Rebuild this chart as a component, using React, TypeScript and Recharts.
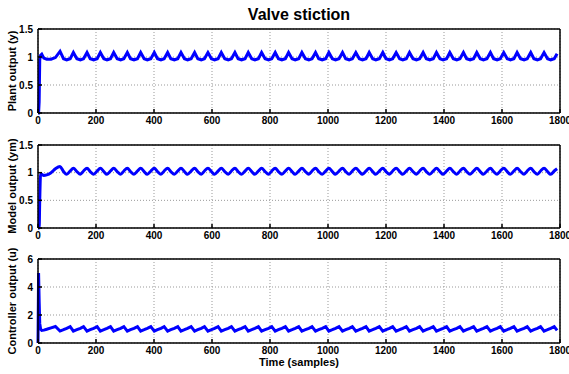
import { LineChart, Line, XAxis, YAxis, CartesianGrid, ReferenceLine } from 'recharts';

// sample index (time axis)
const samples = [
  0, 2, 4, 6, 9, 13, 20, 30, 45, 60,
  76, 88, 99, 111,
  122, 134, 146, 157,
  169, 180, 192, 204,
  215, 227, 238, 250,
  261, 273, 285, 296,
  308, 319, 331, 343,
  354, 366, 377, 389,
  401, 412, 424, 435,
  447, 458, 470, 482,
  493, 505, 516, 528,
  540, 551, 563, 574,
  586, 598, 609, 621,
  632, 644, 656, 667,
  679, 690, 702, 714,
  725, 737, 748, 760,
  771, 783, 795, 806,
  818, 829, 841, 853,
  864, 876, 887, 899,
  910, 922, 934, 945,
  957, 968, 980, 992,
  1003, 1015, 1026, 1038,
  1050, 1061, 1073, 1084,
  1096, 1108, 1119, 1131,
  1142, 1154, 1165, 1177,
  1189, 1200, 1212, 1223,
  1235, 1247, 1258, 1270,
  1281, 1293, 1305, 1316,
  1328, 1339, 1351, 1363,
  1374, 1386, 1397, 1409,
  1420, 1432, 1444, 1455,
  1467, 1478, 1490, 1502,
  1513, 1525, 1536, 1548,
  1560, 1571, 1583, 1594,
  1606, 1618, 1629, 1641,
  1652, 1664, 1676, 1687,
  1699, 1710, 1722, 1733,
  1745, 1757, 1768, 1780,
  1790,
];

const plantOutput = [
  0, 0, 0.2, 0.95, 1.03, 1.05, 0.98, 0.96, 0.96, 0.99,
  1.1, 0.97, 0.95, 0.97,    // 76
  1.08, 0.97, 0.95, 0.97,   // 122
  1.08, 0.97, 0.95, 0.97,   // 169
  1.08, 0.97, 0.95, 0.97,   // 215
  1.08, 0.97, 0.95, 0.97,   // 261
  1.08, 0.97, 0.95, 0.97,   // 308
  1.08, 0.97, 0.95, 0.97,   // 354
  1.08, 0.97, 0.95, 0.97,   // 401
  1.08, 0.97, 0.95, 0.97,   // 447
  1.08, 0.97, 0.95, 0.97,   // 493
  1.08, 0.97, 0.95, 0.97,   // 540
  1.08, 0.97, 0.95, 0.97,   // 586
  1.08, 0.97, 0.95, 0.97,   // 632
  1.08, 0.97, 0.95, 0.97,   // 679
  1.08, 0.97, 0.95, 0.97,   // 725
  1.08, 0.97, 0.95, 0.97,   // 771
  1.08, 0.97, 0.95, 0.97,   // 818
  1.08, 0.97, 0.95, 0.97,   // 864
  1.08, 0.97, 0.95, 0.97,   // 910
  1.08, 0.97, 0.95, 0.97,   // 957
  1.08, 0.97, 0.95, 0.97,   // 1003
  1.08, 0.97, 0.95, 0.97,   // 1050
  1.08, 0.97, 0.95, 0.97,   // 1096
  1.08, 0.97, 0.95, 0.97,   // 1142
  1.08, 0.97, 0.95, 0.97,   // 1189
  1.08, 0.97, 0.95, 0.97,   // 1235
  1.08, 0.97, 0.95, 0.97,   // 1281
  1.08, 0.97, 0.95, 0.97,   // 1328
  1.08, 0.97, 0.95, 0.97,   // 1374
  1.08, 0.97, 0.95, 0.97,   // 1420
  1.08, 0.97, 0.95, 0.97,   // 1467
  1.08, 0.97, 0.95, 0.97,   // 1513
  1.08, 0.97, 0.95, 0.97,   // 1560
  1.08, 0.97, 0.95, 0.97,   // 1606
  1.08, 0.97, 0.95, 0.97,   // 1652
  1.08, 0.97, 0.95, 0.97,   // 1699
  1.08, 0.97, 0.95, 0.97,   // 1745
  1.06,
];

const modelOutput = [
  0, 0, 0, 0.5, 0.98, 0.97, 0.95, 0.96, 1.0, 1.07,
  1.11, 1.02, 0.97, 1.03,   // 76
  1.08, 1.02, 0.97, 1.03,   // 122
  1.08, 1.02, 0.97, 1.03,   // 169
  1.08, 1.02, 0.97, 1.03,   // 215
  1.08, 1.02, 0.97, 1.03,   // 261
  1.08, 1.02, 0.97, 1.03,   // 308
  1.08, 1.02, 0.97, 1.03,   // 354
  1.08, 1.02, 0.97, 1.03,   // 401
  1.08, 1.02, 0.97, 1.03,   // 447
  1.08, 1.02, 0.97, 1.03,   // 493
  1.08, 1.02, 0.97, 1.03,   // 540
  1.08, 1.02, 0.97, 1.03,   // 586
  1.08, 1.02, 0.97, 1.03,   // 632
  1.08, 1.02, 0.97, 1.03,   // 679
  1.08, 1.02, 0.97, 1.03,   // 725
  1.08, 1.02, 0.97, 1.03,   // 771
  1.08, 1.02, 0.97, 1.03,   // 818
  1.08, 1.02, 0.97, 1.03,   // 864
  1.08, 1.02, 0.97, 1.03,   // 910
  1.08, 1.02, 0.97, 1.03,   // 957
  1.08, 1.02, 0.97, 1.03,   // 1003
  1.08, 1.02, 0.97, 1.03,   // 1050
  1.08, 1.02, 0.97, 1.03,   // 1096
  1.08, 1.02, 0.97, 1.03,   // 1142
  1.08, 1.02, 0.97, 1.03,   // 1189
  1.08, 1.02, 0.97, 1.03,   // 1235
  1.08, 1.02, 0.97, 1.03,   // 1281
  1.08, 1.02, 0.97, 1.03,   // 1328
  1.08, 1.02, 0.97, 1.03,   // 1374
  1.08, 1.02, 0.97, 1.03,   // 1420
  1.08, 1.02, 0.97, 1.03,   // 1467
  1.08, 1.02, 0.97, 1.03,   // 1513
  1.08, 1.02, 0.97, 1.03,   // 1560
  1.08, 1.02, 0.97, 1.03,   // 1606
  1.08, 1.02, 0.97, 1.03,   // 1652
  1.08, 1.02, 0.97, 1.03,   // 1699
  1.08, 1.02, 0.97, 1.03,   // 1745
  1.07,
];

const controllerOutput = [
  0, 5.0, 3.0, 1.4, 1.0, 0.9, 0.92, 0.98, 1.08, 1.18,
  0.85, 0.95, 1.05, 1.17,   // 76
  0.85, 0.95, 1.05, 1.17,   // 122
  0.85, 0.95, 1.05, 1.17,   // 169
  0.85, 0.95, 1.05, 1.17,   // 215
  0.85, 0.95, 1.05, 1.17,   // 261
  0.85, 0.95, 1.05, 1.17,   // 308
  0.85, 0.95, 1.05, 1.17,   // 354
  0.85, 0.95, 1.05, 1.17,   // 401
  0.85, 0.95, 1.05, 1.17,   // 447
  0.85, 0.95, 1.05, 1.17,   // 493
  0.85, 0.95, 1.05, 1.17,   // 540
  0.85, 0.95, 1.05, 1.17,   // 586
  0.85, 0.95, 1.05, 1.17,   // 632
  0.85, 0.95, 1.05, 1.17,   // 679
  0.85, 0.95, 1.05, 1.17,   // 725
  0.85, 0.95, 1.05, 1.17,   // 771
  0.85, 0.95, 1.05, 1.17,   // 818
  0.85, 0.95, 1.05, 1.17,   // 864
  0.85, 0.95, 1.05, 1.17,   // 910
  0.85, 0.95, 1.05, 1.17,   // 957
  0.85, 0.95, 1.05, 1.17,   // 1003
  0.85, 0.95, 1.05, 1.17,   // 1050
  0.85, 0.95, 1.05, 1.17,   // 1096
  0.85, 0.95, 1.05, 1.17,   // 1142
  0.85, 0.95, 1.05, 1.17,   // 1189
  0.85, 0.95, 1.05, 1.17,   // 1235
  0.85, 0.95, 1.05, 1.17,   // 1281
  0.85, 0.95, 1.05, 1.17,   // 1328
  0.85, 0.95, 1.05, 1.17,   // 1374
  0.85, 0.95, 1.05, 1.17,   // 1420
  0.85, 0.95, 1.05, 1.17,   // 1467
  0.85, 0.95, 1.05, 1.17,   // 1513
  0.85, 0.95, 1.05, 1.17,   // 1560
  0.85, 0.95, 1.05, 1.17,   // 1606
  0.85, 0.95, 1.05, 1.17,   // 1652
  0.85, 0.95, 1.05, 1.17,   // 1699
  0.85, 0.95, 1.05, 1.17,   // 1745
  0.9,
];

const xTicks = [0, 200, 400, 600, 800, 1000, 1200, 1400, 1600, 1800];
const outputTicks = [0, 0.5, 1, 1.5];
const controllerTicks = [0, 2, 4, 6];

const data = samples.map((t, i) => ({
  t,
  y: plantOutput[i],
  ym: modelOutput[i],
  u: controllerOutput[i],
}));

const FONT = '"Liberation Sans", Arial, Helvetica, sans-serif';
const tickStyle = { fontSize: 10, fontWeight: 'bold', fill: '#000', fontFamily: FONT };

interface PanelProps {
  top: number;
  plotHeight: number;
  dataKey: string;
  yMax: number;
  yTicks: number[];
  curve: 'linear' | 'monotone';
}

function Panel({ top, plotHeight, dataKey, yMax, yTicks, curve }: PanelProps) {
  return (
    <div style={{ position: 'absolute', left: 0, top: top - 5 }}>
      <LineChart
        width={569}
        height={5 + plotHeight + 22}
        data={data}
        margin={{ top: 5, right: 9, left: 0, bottom: 0 }}
      >
        <CartesianGrid stroke="#999" strokeDasharray="1 2" />
        <XAxis
          dataKey="t"
          type="number"
          domain={[0, 1800]}
          ticks={xTicks}
          interval={0}
          height={22}
          stroke="#000"
          strokeWidth={1.5}
          tickSize={-4}
          tickMargin={8}
          tick={tickStyle}
        />
        <YAxis
          type="number"
          domain={[0, yMax]}
          ticks={yTicks}
          interval={0}
          width={38}
          stroke="#000"
          strokeWidth={1.5}
          tickSize={-4}
          tickMargin={9}
          tick={tickStyle}
        />
        <ReferenceLine y={yMax} stroke="#000" strokeWidth={1.5} />
        <ReferenceLine x={1800} stroke="#000" strokeWidth={1.5} />
        <Line
          type={curve}
          dataKey={dataKey}
          stroke="#0000ff"
          strokeWidth={3}
          dot={false}
          isAnimationActive={false}
        />
      </LineChart>
    </div>
  );
}

export default function App() {
  return (
    <div
      style={{
        position: 'absolute',
        left: 0,
        top: 0,
        width: 569,
        height: 374,
        background: '#fff',
        overflow: 'hidden',
      }}
    >
      <Panel top={29} plotHeight={84} dataKey="y" yMax={1.5} yTicks={outputTicks} curve="linear" />
      <Panel top={145} plotHeight={83} dataKey="ym" yMax={1.5} yTicks={outputTicks} curve="monotone" />
      <Panel top={259} plotHeight={84} dataKey="u" yMax={6} yTicks={controllerTicks} curve="linear" />
      <svg
        width={569}
        height={374}
        style={{ position: 'absolute', left: 0, top: 0, pointerEvents: 'none' }}
        fontFamily={FONT}
        fontWeight="bold"
      >
        <text x={299} y={20} fontSize={16} textAnchor="middle">Valve stiction</text>
        <text x={16} y={71} fontSize={11} textAnchor="middle" transform="rotate(-90 16 71)">Plant output (y)</text>
        <text x={16} y={186} fontSize={11} textAnchor="middle" transform="rotate(-90 16 186)">Model output (ym)</text>
        <text x={16} y={301} fontSize={11} textAnchor="middle" transform="rotate(-90 16 301)">Controller output (u)</text>
        <text x={299} y={366} fontSize={11} textAnchor="middle">Time (samples)</text>
      </svg>
    </div>
  );
}
